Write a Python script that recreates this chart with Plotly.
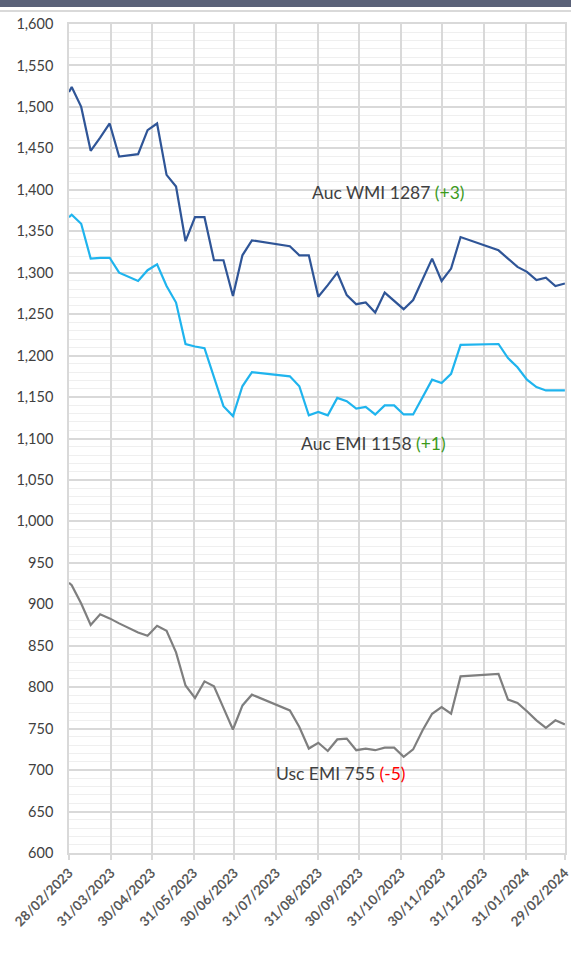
import plotly.graph_objects as go

dates = [
    "2023-02-28", "2023-03-02", "2023-03-09", "2023-03-16", "2023-03-23", "2023-03-30",
    "2023-04-06", "2023-04-20", "2023-04-27", "2023-05-04", "2023-05-11", "2023-05-18",
    "2023-05-25", "2023-06-01", "2023-06-08", "2023-06-15", "2023-06-22", "2023-06-29",
    "2023-07-06", "2023-07-13", "2023-08-10", "2023-08-17", "2023-08-24", "2023-08-31",
    "2023-09-07", "2023-09-14", "2023-09-21", "2023-09-28", "2023-10-05", "2023-10-12",
    "2023-10-19", "2023-10-26", "2023-11-02", "2023-11-09", "2023-11-16", "2023-11-23",
    "2023-11-30", "2023-12-07", "2023-12-14", "2024-01-11", "2024-01-18", "2024-01-25",
    "2024-02-01", "2024-02-08", "2024-02-15", "2024-02-22", "2024-02-29",
]

auc_wmi = [1518, 1524, 1500, 1447, 1463, 1480, 1440, 1443, 1472, 1480, 1418, 1404,
           1338, 1367, 1367, 1315, 1315, 1272, 1321, 1339, 1332, 1321, 1321, 1271,
           1285, 1300, 1273, 1262, 1264, 1252, 1276, 1266, 1256, 1267, 1292, 1317,
           1290, 1305, 1343, 1327, 1317, 1307, 1301, 1291, 1294, 1284, 1287]

auc_emi = [1367, 1370, 1359, 1317, 1318, 1318, 1300, 1290, 1303, 1310, 1284, 1264,
           1214, 1211, 1209, 1174, 1139, 1127, 1163, 1180, 1175, 1163, 1128, 1132,
           1128, 1149, 1145, 1136, 1138, 1129, 1140, 1140, 1129, 1129, 1150, 1171,
           1167, 1178, 1213, 1214, 1197, 1186, 1171, 1162, 1158, 1158, 1158]

usc_emi = [926, 923, 901, 875, 888, 883, 877, 866, 862, 874, 868, 842,
           802, 787, 807, 801, 775, 749, 778, 791, 772, 752, 726, 733,
           723, 737, 738, 724, 726, 724, 727, 727, 716, 725, 748, 768,
           776, 768, 813, 816, 785, 781, 771, 760, 751, 760, 755]

tick_dates = ["2023-02-28", "2023-03-31", "2023-04-30", "2023-05-31", "2023-06-30",
              "2023-07-31", "2023-08-31", "2023-09-30", "2023-10-31", "2023-11-30",
              "2023-12-31", "2024-01-31", "2024-02-29"]
tick_labels = ["28/02/2023", "31/03/2023", "30/04/2023", "31/05/2023", "30/06/2023",
               "31/07/2023", "31/08/2023", "30/09/2023", "31/10/2023", "30/11/2023",
               "31/12/2023", "31/01/2024", "29/02/2024"]

labels = [
    ("Auc WMI 1287 ", "(+3)", "#3c9a1c", "2023-08-25", 1397),
    ("Auc EMI 1158 ", "(+1)", "#3c9a1c", "2023-08-17", 1094),
    ("Usc EMI 755 ", "(-5)", "#ff0000", "2023-07-29", 696),
]

FONT = "Lato, 'Open Sans', sans-serif"

fig = go.Figure()
fig.add_trace(go.Scatter(x=dates, y=auc_wmi, mode="lines", name="Auc WMI",
                         line=dict(color="#2f5597", width=2.2)))
fig.add_trace(go.Scatter(x=dates, y=auc_emi, mode="lines", name="Auc EMI",
                         line=dict(color="#1fb4ee", width=2.2)))
fig.add_trace(go.Scatter(x=dates, y=usc_emi, mode="lines", name="Usc EMI",
                         line=dict(color="#7f7f7f", width=2.2)))

for main, chg, col, xd, yv in labels:
    fig.add_annotation(x=xd, y=yv, xref="x", yref="y", xanchor="left", yanchor="middle",
                       showarrow=False,
                       text=f"{main}<span style='color:{col}'>{chg}</span>",
                       font=dict(family=FONT, size=17.5, color="#404040"))

# top decorative band
fig.add_shape(type="rect", xref="paper", yref="paper", x0=-0.2, x1=1.1,
              y0=1.0205, y1=1.04, fillcolor="#5a6178", line_width=0, layer="above")
fig.add_shape(type="line", xref="paper", yref="paper", x0=-0.2, x1=1.1,
              y0=1.0157, y1=1.0157, line=dict(color="#d9d9d9", width=2))

fig.update_layout(
    width=571, height=958,
    margin=dict(l=69, r=6, t=24, b=105),
    paper_bgcolor="white", plot_bgcolor="white",
    showlegend=False,
    font=dict(family=FONT, color="#404040"),
)
fig.update_xaxes(
    type="date", range=["2023-02-28", "2024-02-29 02:00"], automargin=False,
    tickmode="array", tickvals=tick_dates, ticktext=tick_labels,
    tickangle=-45, tickfont=dict(family=FONT, size=13.5, color="#595959", weight="bold"),
    ticklabeloverflow="allow",
    showgrid=True, gridcolor="#d9d9d9", gridwidth=1.5,
    showline=True, linecolor="#d9d9d9", linewidth=1.5, mirror=True,
    ticks="outside", ticklen=5, tickcolor="#d9d9d9", tickwidth=1.5,
    zeroline=False,
)
fig.update_yaxes(
    range=[600, 1600], dtick=50, tick0=600, tickformat=",", automargin=False,
    tickfont=dict(family=FONT, size=14.5, color="#404040"),
    showgrid=True, gridcolor="#d9d9d9", gridwidth=1.5,
    minor=dict(dtick=10, showgrid=True, gridcolor="#efefef", gridwidth=1),
    showline=True, linecolor="#d9d9d9", linewidth=1.5, mirror=True,
    ticklabelstandoff=11, zeroline=False,
)

fig.write_html("out.html", config={"displayModeBar": False},
               post_script="document.body.style.margin='0';document.body.style.padding='0';")
